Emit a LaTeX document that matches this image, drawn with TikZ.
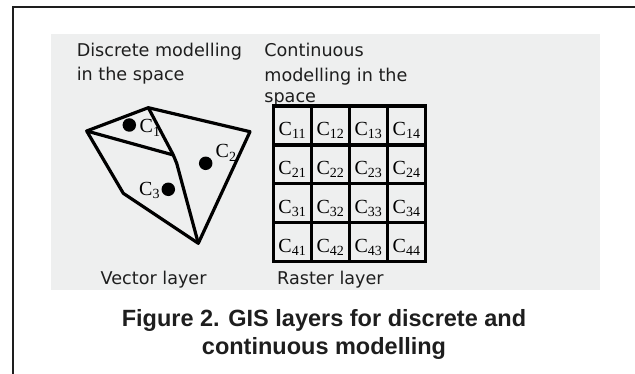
\documentclass[tikz,border=0pt]{standalone}
\usepackage{fontspec}
\setmainfont{Liberation Sans}
\newfontfamily\headfont{DejaVu Sans}
\newfontfamily\cellfont{Liberation Serif}
\usetikzlibrary{positioning}
\definecolor{panelgray}{HTML}{EEEFEF}
\definecolor{inkgray}{HTML}{1E1E1E}

\begin{document}
\begin{tikzpicture}[x=1pt, y=-1pt,
  headtext/.style={inner sep=0pt, anchor=north west, align=left, text=inkgray, font=\headfont\fontsize{17.6}{23.3}\selectfont},
  foottext/.style={inner sep=0pt, anchor=base west, text=inkgray, font=\headfont\fontsize{17.6}{21}\selectfont},
  captext/.style={inner sep=0pt, anchor=north, align=center, text=inkgray, font=\bfseries\fontsize{23.5}{28}\selectfont},
  rastercell/.style={draw, line width=3.3pt, minimum width=38.1pt, minimum height=38.9pt, inner sep=0pt,
    text height=23pt, text depth=2.6pt, font=\cellfont\fontsize{20}{20}\selectfont},
  ptlabel/.style={inner sep=0pt, anchor=base west, font=\cellfont\fontsize{20}{20}\selectfont},
  centroid/.style={circle, fill=black, inner sep=0pt, minimum size=13.5pt},
  polyline/.style={line width=3.2pt, line join=round}
]
\useasboundingbox (0,0) rectangle (635,374);

% frame and panel
\draw[line width=1.3pt, inkgray] (13,374) -- (13,7) -- (635,7);
\fill[panelgray] (51,34) rectangle (600,290);

% headings
\node[headtext] (disctext) at (76.6,43.4) {Discrete modelling\\in the space};
\node[headtext] (conttext) at (264.2,43.4) {Continuous\\[1.7pt]modelling in the\\[-2.5pt]space};

% vector layer
\coordinate (pa) at (86.7,131);
\coordinate (pb) at (148.3,107.7);
\coordinate (pc) at (250,131.7);
\coordinate (pd) at (198.3,243.3);
\coordinate (pe) at (123.3,193.3);
\coordinate (pf) at (173.3,155);
\coordinate (pg) at (176.7,163.3);

\draw[polyline] (pa) -- (pb) -- (pc) -- (pd) -- (pe) -- cycle;
\draw[polyline] (pa) -- (pf);
\draw[polyline] (pb) -- (pf) -- (pg) -- (pd);

\node[centroid] (c1) at (129.3,125) {};
\node[centroid] (c2) at (205.7,163.3) {};
\node[centroid] (c3) at (168.3,189.3) {};
\node[ptlabel] (c1lab) at (139.5,133) {C\textsubscript{1}};
\node[ptlabel] (c2lab) at (215.5,158) {C\textsubscript{2}};
\node[ptlabel] (c3lab) at (139,195.5) {C\textsubscript{3}};

% raster layer
\foreach \i in {1,...,4}
  \foreach \j in {1,...,4}
    \node[rastercell] (r\i\j) at ({273.3+38.1*(\j-0.5)},{106+38.9*(\i-0.5)}) {C\textsubscript{\i\j}};

\node[foottext] (vectext) at (100.5,285) {Vector layer};
\node[foottext] (rastext) at (277,285) {Raster layer};

% caption
\node[captext] (caption) at (324,308.8) {Figure 2. GIS layers for discrete and\\continuous modelling};
\end{tikzpicture}
\end{document}
